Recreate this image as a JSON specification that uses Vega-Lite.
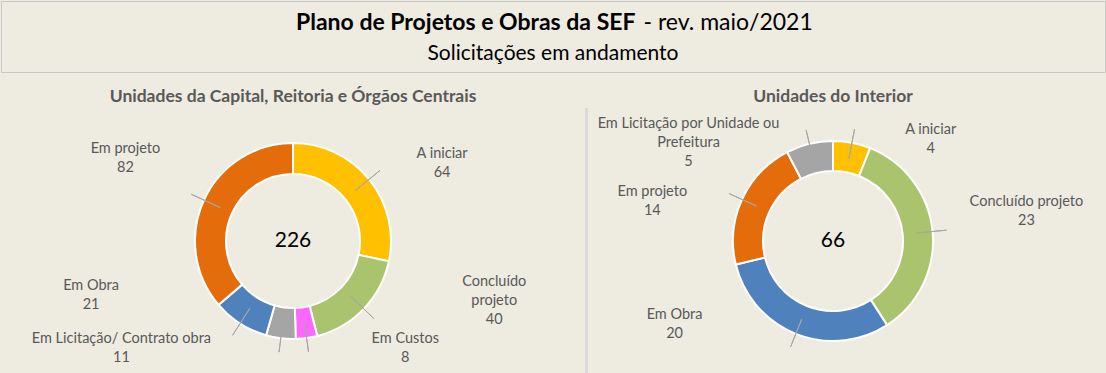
{
  "$schema": "https://vega.github.io/schema/vega-lite/v6.json",
  "padding": 0,
  "background": "#EEEBE0",
  "spacing": 14,
  "datasets": {
    "capital": [
      {"cat": "A iniciar", "n": 64},
      {"cat": "Concluído projeto", "n": 40},
      {"cat": "Em Custos", "n": 8},
      {"cat": "Em Licitação/ Contrato obra", "n": 11},
      {"cat": "Em Obra", "n": 21},
      {"cat": "Em projeto", "n": 82}
    ],
    "interior": [
      {"cat": "A iniciar", "n": 4},
      {"cat": "Concluído projeto", "n": 23},
      {"cat": "Em Obra", "n": 20},
      {"cat": "Em projeto", "n": 14},
      {"cat": "Em Licitação por Unidade ou Prefeitura", "n": 5}
    ]
  },
  "vconcat": [
    {
      "width": 1104,
      "height": 71,
      "view": {"stroke": "#C8C8C8", "strokeWidth": 1, "fill": "#EEEBE0"},
      "data": {"values": [{}]},
      "layer": [
        {"mark": {"type": "text", "text": "Plano de Projetos e Obras da SEF", "fontWeight": "bold", "fontSize": 23, "align": "right", "baseline": "middle", "dx": 82.5, "dy": -13.5, "color": "#000000"}, "encoding": {}},
        {"mark": {"type": "text", "text": "- rev. maio/2021", "fontSize": 23, "align": "left", "baseline": "middle", "dx": 90.5, "dy": -13.5, "color": "#000000"}, "encoding": {}},
        {"mark": {"type": "text", "text": "Solicitações em andamento", "fontSize": 21, "align": "center", "baseline": "middle", "dy": 17.5, "color": "#000000"}, "encoding": {}}
      ]
    },
    {
      "hconcat": [
        {
          "width": 584,
          "height": 266,
          "view": {"stroke": null},
          "data": {"name": "capital"},
          "title": {"text": "Unidades da Capital, Reitoria e Órgãos Centrais", "offset": 3, "fontSize": 17.5, "fontWeight": "bold", "color": "#595959", "anchor": "middle"},
          "transform": [{"window": [{"op": "row_number", "as": "ordem"}]}],
          "layer": [
            {
              "mark": {"type": "arc", "outerRadius": 98, "innerRadius": 67, "stroke": "#FFFFFF", "strokeWidth": 2},
              "encoding": {
                "theta": {"field": "n", "type": "quantitative", "stack": true},
                "order": {"field": "ordem", "type": "quantitative"},
                "color": {"field": "cat", "type": "nominal", "legend": null,
                  "scale": {"domain": ["A iniciar", "Concluído projeto", "Em Custos", "Em Licitação/ Contrato obra", "Em Obra", "Em projeto"],
                            "range": ["#FFC000", "#A9C46C", "#FF66FF", "#A5A5A5", "#4F81BD", "#E46C0A"]}}
              }
            },
            {
              "mark": {"type": "arc", "outerRadius": 112, "innerRadius": 80, "padAngle": 3.1416, "filled": false, "stroke": "#A6A6A6", "strokeWidth": 1},
              "encoding": {
                "theta": {"field": "n", "type": "quantitative", "stack": true},
                "order": {"field": "ordem", "type": "quantitative"}
              }
            },
            {
              "mark": {"type": "text", "radius": 125, "align": "center", "baseline": "middle", "fontSize": 14.5, "lineHeight": 19, "color": "#595959",
                "dx": {"expr": "datum.cat === 'A iniciar' ? 52 : datum.cat === 'Concluído projeto' ? 111 : datum.cat === 'Em Custos' ? 95 : datum.cat === 'Em Obra' ? -134.5 : datum.cat === 'Em projeto' ? -54 : -156"},
                "dy": {"expr": "datum.cat === 'A iniciar' ? -8.5 : datum.cat === 'Concluído projeto' ? -45.5 : datum.cat === 'Em Custos' ? -25.5 : datum.cat === 'Em Obra' ? -60.5 : datum.cat === 'Em projeto' ? -39.5 : -26"}},
              "encoding": {
                "theta": {"field": "n", "type": "quantitative", "stack": true},
                "order": {"field": "ordem", "type": "quantitative"},
                "text": {"value": {"expr": "datum.cat === 'Concluído projeto' ? ['Concluído', 'projeto', '' + datum.n] : [datum.cat, '' + datum.n]"}}
              }
            },
            {
              "transform": [{"aggregate": [{"op": "sum", "field": "n", "as": "total"}]}],
              "mark": {"type": "text", "fontSize": 21, "color": "#000000", "align": "center", "baseline": "middle"},
              "encoding": {"text": {"field": "total", "type": "quantitative"}}
            }
          ]
        },
        {
          "width": 3,
          "height": 266,
          "view": {"stroke": null, "fill": "#D9D9D9"},
          "data": {"values": [{}]},
          "mark": {"type": "text", "text": ""},
          "encoding": {}
        },
        {
          "width": 490,
          "height": 266,
          "view": {"stroke": null},
          "data": {"name": "interior"},
          "title": {"text": "Unidades do Interior", "offset": 3, "fontSize": 17.5, "fontWeight": "bold", "color": "#595959", "anchor": "middle"},
          "transform": [{"window": [{"op": "row_number", "as": "ordem"}]}],
          "layer": [
            {
              "mark": {"type": "arc", "outerRadius": 100, "innerRadius": 70, "stroke": "#FFFFFF", "strokeWidth": 2},
              "encoding": {
                "theta": {"field": "n", "type": "quantitative", "stack": true},
                "order": {"field": "ordem", "type": "quantitative"},
                "color": {"field": "cat", "type": "nominal", "legend": null,
                  "scale": {"domain": ["A iniciar", "Concluído projeto", "Em Obra", "Em projeto", "Em Licitação por Unidade ou Prefeitura"],
                            "range": ["#FFC000", "#A9C46C", "#4F81BD", "#E46C0A", "#A5A5A5"]}}
              }
            },
            {
              "mark": {"type": "arc", "outerRadius": 114, "innerRadius": 84, "padAngle": 3.1416, "filled": false, "stroke": "#A6A6A6", "strokeWidth": 1},
              "encoding": {
                "theta": {"field": "n", "type": "quantitative", "stack": true},
                "order": {"field": "ordem", "type": "quantitative"}
              }
            },
            {
              "mark": {"type": "text", "radius": 125, "align": "center", "baseline": "middle", "fontSize": 14.5, "lineHeight": 19, "color": "#595959",
                "dx": {"expr": "datum.cat === 'A iniciar' ? 74 : datum.cat === 'Concluído projeto' ? 69 : datum.cat === 'Em Obra' ? -112 : datum.cat === 'Em projeto' ? -67 : -115"},
                "dy": {"expr": "datum.cat === 'A iniciar' ? 11.5 : datum.cat === 'Concluído projeto' ? -27.5 : datum.cat === 'Em Obra' ? -42.5 : datum.cat === 'Em projeto' ? 2.5 : 4.5"}},
              "encoding": {
                "theta": {"field": "n", "type": "quantitative", "stack": true},
                "order": {"field": "ordem", "type": "quantitative"},
                "text": {"value": {"expr": "datum.cat === 'Em Licitação por Unidade ou Prefeitura' ? ['Em Licitação por Unidade ou', 'Prefeitura', '' + datum.n] : [datum.cat, '' + datum.n]"}}
              }
            },
            {
              "transform": [{"aggregate": [{"op": "sum", "field": "n", "as": "total"}]}],
              "mark": {"type": "text", "fontSize": 21, "color": "#000000", "align": "center", "baseline": "middle"},
              "encoding": {"text": {"field": "total", "type": "quantitative"}}
            }
          ]
        }
      ],
      "spacing": 0,
      "resolve": {"scale": {"color": "independent", "theta": "independent"}}
    }
  ],
  "config": {
    "font": "Lato",
    "title": {"font": "Lato"},
    "text": {"font": "Lato"}
  }
}
